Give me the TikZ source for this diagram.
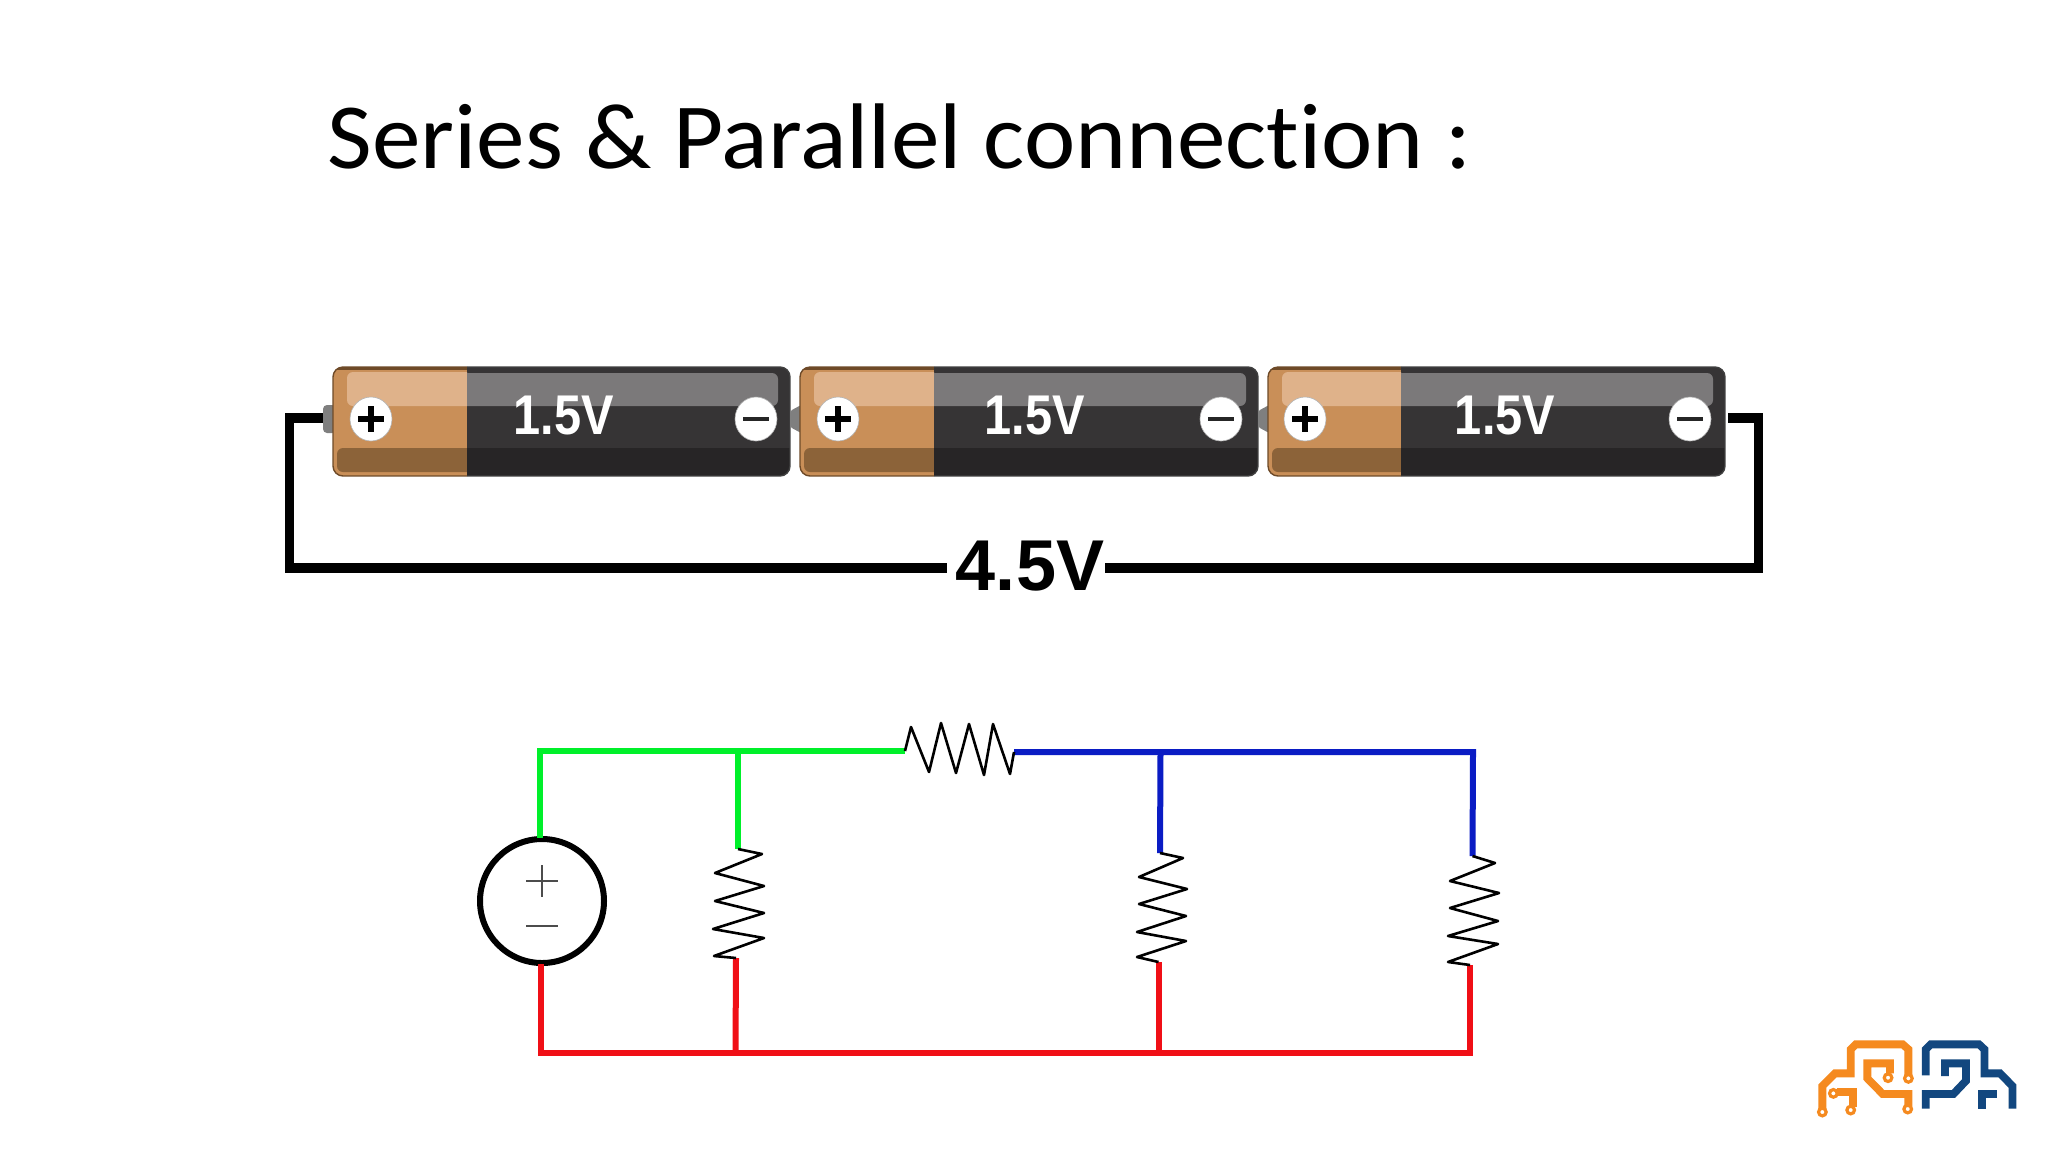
\documentclass[tikz,border=0pt]{standalone}
\usepackage{fontspec}
\setmainfont{Liberation Sans}
\newfontfamily\titlefont[Ligatures=NoCommon]{Carlito}
\definecolor{cuMain}{HTML}{C98F58}
\definecolor{cuHi}{HTML}{DFB28A}
\definecolor{cuLo}{HTML}{8C6339}
\definecolor{cuEdge}{HTML}{6E4A28}
\definecolor{dkMain}{HTML}{363435}
\definecolor{dkHi}{HTML}{7B797A}
\definecolor{dkLo}{HTML}{272526}
\definecolor{nubGrey}{HTML}{7F7F7F}
\definecolor{wireGreen}{HTML}{00F02A}
\definecolor{wireBlue}{HTML}{0A1CC4}
\definecolor{wireRed}{HTML}{F00F16}
\definecolor{logoOrange}{HTML}{F58A1F}
\definecolor{logoBlue}{HTML}{12477F}
\tikzset{
  x=0.5pt,y=-0.5pt,
  heavywire/.style={line width=4.7pt,black,line cap=butt,miter limit=10},
  greenwire/.style={line width=3pt,wireGreen},
  bluewire/.style={line width=3pt,wireBlue},
  redwire/.style={line width=3pt,wireRed},
  zigzag/.style={line width=1.3pt,black,line join=round},
  sign/.style={line width=1.2pt,black!70},
  logoO/.style={line width=3.9pt,logoOrange,line join=miter},
  logoB/.style={line width=3.9pt,logoBlue,line join=miter},
  pad/.style={circle,draw=logoOrange,fill=white,line width=1.6pt,inner sep=0pt,minimum size=3.8pt},
  cellV/.style={text=white,font=\fontsize{28}{30}\selectfont\bfseries,inner sep=0pt,xscale=.87},
  pole/.style={ellipse,fill=white,draw=black!30,line width=.3pt,minimum width=21pt,minimum height=22pt,inner sep=0pt},
}
\usetikzlibrary{shapes.geometric}
% #1 name, #2 left x, #3 copper end x, #4 plus x, #5 minus x, #6 text x, #7 body right x
\newcommand{\cellbody}[7]{%
  \fill[nubGrey,rounded corners=1pt] (#2-10,411) -- (#2+3,404) -- (#2+3,434) -- (#2-10,427) -- cycle;
  \begin{scope}
    \clip[rounded corners=5pt] (#2,367) rectangle (#7,476);
    \fill[cuMain] (#2,367) rectangle (#3,476);
    \fill[dkMain] (#3,367) rectangle (#7,476);
    \fill[cuEdge] (#2,367) rectangle (#3,369.5);
    \fill[cuLo,rounded corners=3pt] (#2+4,448) -- (#2+4,472) -- (#3+6,472) -- (#3+6,448) -- cycle;
    \fill[dkLo] (#3,448) rectangle (#7,476);
    \begin{scope}
      \clip (#2,360) rectangle (#3,410);
      \fill[cuHi,rounded corners=3pt] (#2+14,372) rectangle (#3+8,406);
    \end{scope}
    \begin{scope}
      \clip (#3,360) rectangle (#7,410);
      \fill[dkHi,rounded corners=3pt] (#3-8,373) rectangle (#7-12,406);
    \end{scope}
  \end{scope}
  \draw[cuEdge,line width=.7pt,rounded corners=5pt] (#3,367) -- (#2,367) -- (#2,476) -- (#3,476);
  \draw[black!75,line width=.7pt,rounded corners=5pt] (#3,367) -- (#7,367) -- (#7,476) -- (#3,476);
  \node[pole] (#1p) at (#4,419) {};
  \draw[black,line width=2.6pt] (#4-13,419) -- (#4+13,419) (#4,406) -- (#4,432);
  \node[pole] (#1m) at (#5,419) {};
  \draw[black!85,line width=1.9pt] (#5-13,419) -- (#5+13,419);
  \node[cellV] (#1v) at (#6,415) {1.5V};
}
\begin{document}
\begin{tikzpicture}
\useasboundingbox (0,0) rectangle (2048,1152);
\fill[white] (0,0) rectangle (2048,1152);
\node[anchor=base west,inner sep=0pt,xscale=1.043,font=\titlefont\fontsize{46.6}{56}\selectfont] (title) at (327,168) {Series \& Parallel connection :};

% batteries
\fill[nubGrey,rounded corners=2pt] (323,405) rectangle (336,433);
\cellbody{a}{333}{467}{371}{756}{564}{790}
\cellbody{b}{800}{934}{838}{1221}{1035}{1258}
\cellbody{c}{1268}{1401}{1305}{1690}{1505}{1725}

% loop wire
\coordinate (wl) at (323,418);
\coordinate (wr) at (1728,418);
\node[inner sep=0pt,font=\fontsize{36}{40}\selectfont\bfseries] (total) at (1030,566) {4.5V};
\draw[heavywire] (wl) -- (289.5,418) -- (289.5,568) -- (947,568);
\draw[heavywire] (wr) -- (1758.5,418) -- (1758.5,568) -- (1105,568);

% source
\node[circle,draw=black,line width=3pt,minimum size=62pt,inner sep=0pt] (src) at (542,901) {};
\draw[sign] (526,881) -- (558,881) (542,865) -- (542,897);
\draw[sign] (526,926) -- (558,926);

% junctions and resistor terminals
\coordinate (r1a) at (905,751);
\coordinate (r1b) at (1014,752);
\coordinate (r2a) at (738,849);
\coordinate (r2b) at (736,958);
\coordinate (r3a) at (1160,853);
\coordinate (r3b) at (1158.5,962);
\coordinate (r4a) at (1472.5,856);
\coordinate (r4b) at (1470,965);

\draw[greenwire] (540,838) -- (540,751) -- (r1a);
\draw[greenwire] (738,751) -- (r2a);
\draw[bluewire] (r1b) -- (1473,752) -- (r4a);
\draw[bluewire] (1160.5,752) -- (r3a);
\draw[redwire] (541,964) -- (541,1053) -- (1470,1053) -- (r4b);
\draw[redwire] (735.5,1053) -- (r2b);
\draw[redwire] (1158.5,1053) -- (r3b);

% resistors
\draw[zigzag] (r1a) -- (911,727) -- (929,772) -- (941,723) -- (956,773) -- (969,724) -- (984,775) -- (993,724) -- (1010,774) -- (r1b);
\draw[zigzag] (r2a) -- (762,854) -- (715,873) -- (764,886) -- (715,901) -- (764,913) -- (713,929) -- (764,938) -- (714,956) -- (r2b);
\draw[zigzag] (r3a) -- (1183,858) -- (1139,877) -- (1187,889) -- (1139,904) -- (1186,916) -- (1137,932) -- (1186,941) -- (1137,957) -- (r3b);
\draw[zigzag] (r4a) -- (1495,863) -- (1450,881) -- (1499,893) -- (1450,908) -- (1498,921) -- (1448,936) -- (1498,944) -- (1448,962) -- (r4b);

% logo
\begin{scope}[shift={(1780,1010)},x=0.1667pt,y=-0.1667pt]
  \draw[logoO] (127,298) -- (127,228) -- (165,190) -- (212,190) -- (212,118) -- (227,103) -- (368,103) -- (385,118) -- (385,198);
  \draw[logoO] (330,190) -- (330,160) -- (262,160) -- (262,205) -- (308,252) -- (385,252) -- (385,290);
  \draw[logoO] (170,247) -- (218,247) -- (218,292);
  \node[pad] (l1) at (127,306) {};
  \node[pad] (l2) at (385,205) {};
  \node[pad] (l3) at (324,203) {};
  \node[pad] (l4) at (383,297) {};
  \node[pad] (l5) at (160,250) {};
  \node[pad] (l6) at (212,300) {};
  \draw[logoB] (437,196) -- (437,118) -- (452,103) -- (597,103) -- (613,118) -- (613,190) -- (660,190) -- (697,228) -- (697,296);
  \draw[logoB] (437,296) -- (437,252) -- (520,252) -- (558,212) -- (558,160) -- (495,160) -- (495,198);
  \draw[logoB] (606,296) -- (606,252) -- (652,252);
\end{scope}
\end{tikzpicture}
\end{document}
